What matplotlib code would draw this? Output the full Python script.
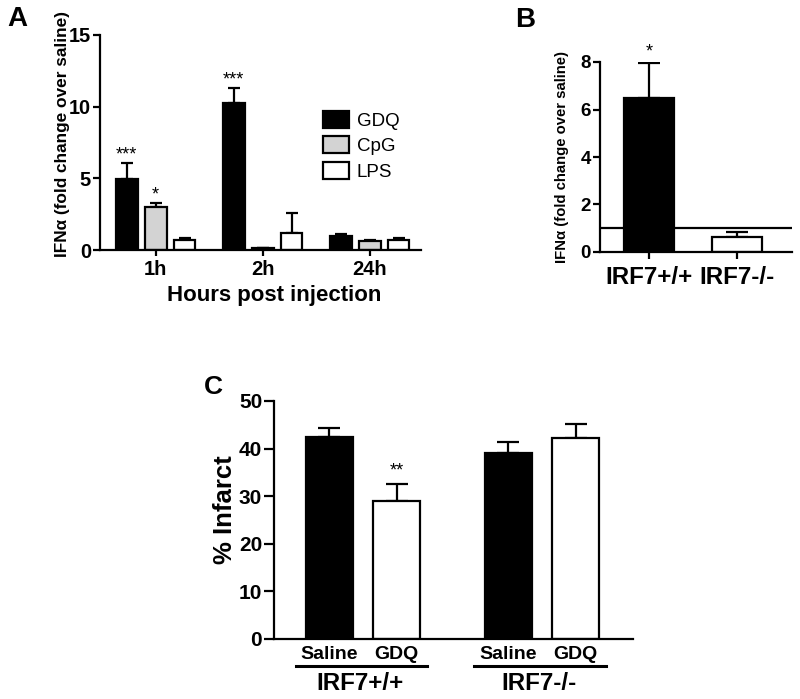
import matplotlib
matplotlib.use("Agg")
import matplotlib.pyplot as plt
import numpy as np

plt.rcParams['font.family'] = ['Liberation Sans', 'DejaVu Sans']

# ---------------- data ----------------
# Panel A
a_groups = ["1h", "2h", "24h"]
a_series = ["GDQ", "CpG", "LPS"]
a_gdq = [4.95, 10.25, 1.0]
a_gdq_err = [1.1, 1.05, 0.15]
a_cpg = [3.0, 0.12, 0.6]
a_cpg_err = [0.28, 0.05, 0.1]
a_lps = [0.7, 1.17, 0.73]
a_lps_err = [0.13, 1.4, 0.12]
a_stars = {("GDQ", 0): "***", ("CpG", 0): "*", ("GDQ", 1): "***"}

# Panel B
b_labels = ["IRF7+/+", "IRF7-/-"]
b_vals = [6.48, 0.65]
b_err = [1.47, 0.18]
b_baseline = 1.0

# Panel C
c_conditions = ["Saline", "GDQ", "Saline", "GDQ"]
c_genotypes = ["IRF7+/+", "IRF7-/-"]
c_vals = [42.4, 29.0, 39.1, 42.2]
c_err = [1.9, 3.6, 2.3, 3.0]

fig = plt.figure(figsize=(8.0, 6.99), dpi=100)
W, H = 800.0, 699.0

def ax_from_px(l, r, t, b):
    return fig.add_axes([l / W, 1 - b / H, (r - l) / W, (b - t) / H])

def ftext(xp, yp, s, **kw):
    return fig.text(xp / W, 1 - yp / H, s, ha="center", va="center", **kw)

LW = 1.6

def style(ax):
    for s in ["top", "right"]:
        ax.spines[s].set_visible(False)
    for s in ["left", "bottom"]:
        ax.spines[s].set_linewidth(LW)
    ax.tick_params(width=LW, length=4)

# ---------------- Panel A ----------------
axA = ax_from_px(100, 421, 35, 250)
style(axA)
off = 0.27
bw = 0.205
x = np.arange(len(a_groups))
colors = {"GDQ": "black", "CpG": "#d3d3d3", "LPS": "white"}
vals = {"GDQ": (a_gdq, a_gdq_err), "CpG": (a_cpg, a_cpg_err), "LPS": (a_lps, a_lps_err)}
for i, s in enumerate(a_series):
    v, e = vals[s]
    xs = x + (i - 1) * off
    axA.bar(xs, v, width=bw, color=colors[s], edgecolor="black", linewidth=LW,
            label=s, zorder=2)
    axA.errorbar(xs, v, yerr=[np.zeros(len(v)), e], fmt="none", ecolor="black",
                 elinewidth=LW, capsize=4.5, capthick=LW, zorder=1)
    for g in range(len(a_groups)):
        if (s, g) in a_stars:
            axA.annotate(a_stars[(s, g)], (xs[g], v[g] + e[g]), xytext=(0, 0),
                         textcoords="offset points", ha="center", va="bottom",
                         fontsize=13)
axA.set_xlim(-0.52, 2.48)
axA.set_ylim(0, 15)
axA.set_yticks([0, 5, 10, 15])
axA.set_xticks(x)
axA.set_xticklabels(a_groups, fontsize=14.5, fontweight="bold")
for t in axA.get_yticklabels():
    t.set_fontsize(14.4)
    t.set_fontweight("bold")
axA.tick_params(axis="y", length=5, pad=1.5)
axA.tick_params(axis="x", length=4)
ftext(274, 295, "Hours post injection", fontsize=16, fontweight="bold")
ftext(62, 134, "IFNα (fold change over saline)", fontsize=12.4, fontweight="bold",
      rotation=90)
leg = axA.legend(loc="upper left", bbox_to_anchor=(0.665, 0.69), frameon=False,
                 fontsize=13.5, handlelength=1.4, handleheight=1.0,
                 handletextpad=0.4, labelspacing=0.35, borderpad=0)
ftext(17, 19, "A", fontsize=20, fontweight="bold")

# ---------------- Panel B ----------------
axB = ax_from_px(600, 792, 62, 252)
style(axB)
xb = np.arange(len(b_labels))
axB.bar(xb, b_vals, width=0.57, color=["black", "white"], edgecolor="black",
        linewidth=LW, zorder=2)
axB.errorbar(xb, b_vals, yerr=[np.zeros(len(b_vals)), b_err], fmt="none",
             ecolor="black", elinewidth=LW, capsize=8, capthick=LW, zorder=1)
axB.axhline(b_baseline, color="black", linewidth=LW, zorder=3)
axB.annotate("*", (xb[0], b_vals[0] + b_err[0]), xytext=(0, 2),
             textcoords="offset points", ha="center", va="bottom", fontsize=13)
axB.set_xlim(-0.557, 1.625)
axB.set_ylim(0, 8)
axB.set_yticks([0, 2, 4, 6, 8])
axB.set_xticks(xb)
axB.set_xticklabels(b_labels, fontsize=17.4, fontweight="bold")
for t in axB.get_yticklabels():
    t.set_fontsize(13.5)
    t.set_fontweight("bold")
axB.tick_params(axis="y", length=5, pad=1.5)
axB.tick_params(axis="x", length=5, pad=5)
ftext(562, 157, "IFNα (fold change over saline)", fontsize=10.7, fontweight="bold",
      rotation=90)
ftext(525, 20, "B", fontsize=20, fontweight="bold")

# ---------------- Panel C ----------------
axC = ax_from_px(274, 633, 401, 639)
style(axC)
xc = np.array([0, 1, 2.65, 3.65])
axC.bar(xc, c_vals, width=0.70, color=["black", "white", "black", "white"],
        edgecolor="black", linewidth=LW, zorder=2)
axC.errorbar(xc, c_vals, yerr=[np.zeros(len(c_vals)), c_err], fmt="none",
             ecolor="black", elinewidth=LW, capsize=8, capthick=LW, zorder=1)
axC.annotate("**", (xc[1], c_vals[1] + c_err[1]), xytext=(0, 3),
             textcoords="offset points", ha="center", va="bottom", fontsize=13)
axC.set_xlim(-0.82, 4.50)
axC.set_ylim(0, 50)
axC.set_yticks([0, 10, 20, 30, 40, 50])
for t in axC.get_yticklabels():
    t.set_fontsize(15)
    t.set_fontweight("bold")
axC.tick_params(axis="y", length=7, pad=1.5)
axC.set_xticks(xc)
axC.set_xticklabels(c_conditions, fontsize=14, fontweight="bold")
axC.tick_params(axis="x", length=0, pad=5)
ftext(225, 510, "% Infarct", fontsize=18.5, fontweight="bold", rotation=90)
# group underline and genotype labels
trans = axC.get_xaxis_transform()
for gi, g in enumerate(c_genotypes):
    x0 = xc[2 * gi] - 0.5
    x1 = xc[2 * gi + 1] + 0.45
    yline = -(666 - 639) / (639 - 401)
    axC.plot([x0, x1], [yline, yline], color="black", linewidth=2.2,
             transform=trans, clip_on=False)
    ytxt = -(684 - 639) / (639 - 401)
    axC.text((xc[2 * gi] + xc[2 * gi + 1]) / 2 - 0.05, ytxt, g, transform=trans,
             ha="center", va="center", fontsize=17.4, fontweight="bold")
ftext(213, 387, "C", fontsize=19, fontweight="bold")

fig.savefig("out.png", dpi=100)
